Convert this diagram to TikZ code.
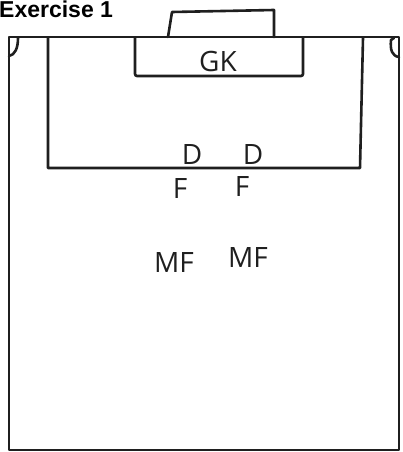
\documentclass[tikz,border=0pt]{standalone}
\usepackage{fontspec}
\setmainfont{Liberation Sans}
\newfontfamily\handfont{Open Sans}
\begin{document}
\begin{tikzpicture}[x=1pt,y=-1pt,
  pen/.style={line width=2.6pt, line cap=round, line join=round, black!88},
  hand/.style={font=\handfont\fontsize{28}{28}\selectfont, inner sep=0pt, black!88},
  title/.style={font=\bfseries\fontsize{23}{23}\selectfont, inner sep=0pt, anchor=base west}]
\useasboundingbox (0,0) rectangle (402,452);
\clip (0,0) rectangle (402,452);
\fill[white] (0,0) rectangle (402,452);
% title
\node[title] (ttl) at (-1,18) {Exercise 1};
% goal
\draw[pen] (168,37) -- (172,12) -- (274,10) -- (274,37);
% field
\draw[pen] (9,450) -- (9,37) -- (399,37) -- (399,450) -- cycle;
% corner arcs
\draw[pen] (9,56) .. controls (15,55) and (18,48) .. (18,38);
\draw[pen] (399,57) .. controls (392,56) and (390,50) .. (391,40) -- (394,38);
% penalty box
\draw[pen] (48,38) -- (48,168) -- (360,168) -- (363,38);
% goal area
\draw[pen, rounded corners=2pt] (135,38) -- (135,76) -- (303,76) -- (303,38);
% labels
\node[hand] (gk) at (218,61) {GK};
\node[hand] (d1) at (192,155) {D};
\node[hand] (d2) at (253,155) {D};
\node[hand] (f1) at (180,189) {F};
\node[hand] (f2) at (242,187) {F};
\node[hand] (mf1) at (174,263) {MF};
\node[hand] (mf2) at (248,258) {MF};
\end{tikzpicture}
\end{document}
